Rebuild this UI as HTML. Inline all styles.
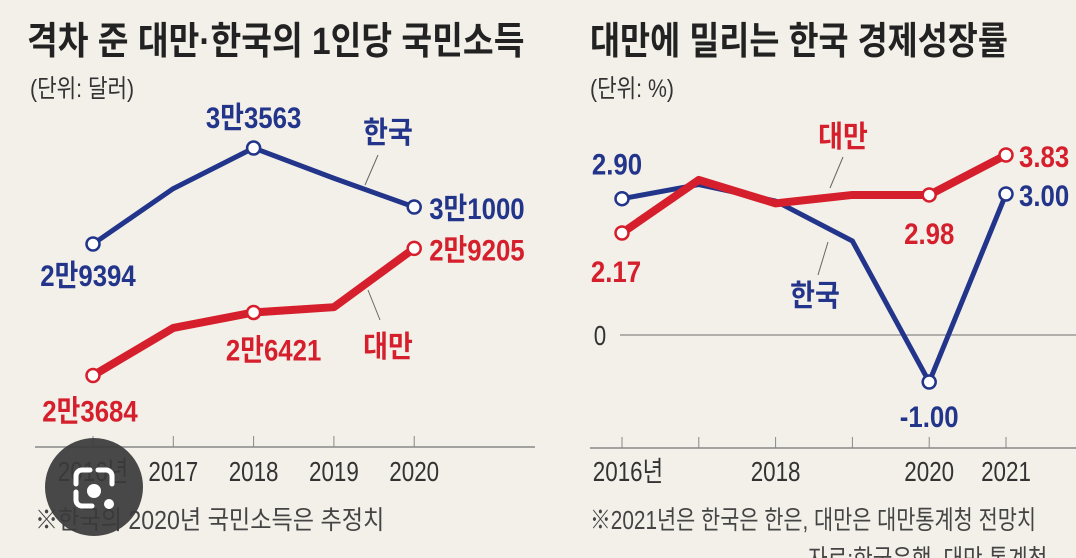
<!DOCTYPE html>
<html><head><meta charset="utf-8">
<style>
html,body{margin:0;padding:0;background:#f3f0e9;}
svg{display:block;}
text{font-family:"Liberation Sans","Noto Sans CJK KR",sans-serif;}
</style></head>
<body>
<svg id="c" width="1076" height="558" viewBox="0 0 1076 558">
<rect width="1076" height="558" fill="#f3f0e9"/>
<g id="root"></g>
</svg>
<script>
// Left chart data: per-capita income (USD)
const incomeYears = ["2016년","2017","2018","2019","2020"];
const koreaIncome = [29394, 31800, 33563, 32250, 31000];
const taiwanIncome = [23684, 25750, 26421, 26650, 29205];
const koreaIncomeLabels = ["2만9394", null, "3만3563", null, "3만1000"];
const taiwanIncomeLabels = ["2만3684", null, "2만6421", null, "2만9205"];
const koreaIncomeMarked = [true,false,true,false,true];
const taiwanIncomeMarked = [true,false,true,false,true];

// Right chart data: economic growth rate (%)
const growthYears = ["2016년","2017","2018","2019","2020","2021"];
const growthTickLabels = ["2016년","","2018","","2020","2021"];
const koreaGrowth = [2.90, 3.2, 2.85, 2.0, -1.00, 3.00];
const taiwanGrowth = [2.17, 3.3, 2.8, 2.98, 2.98, 3.83];
const koreaGrowthLabels = ["2.90", null, null, null, "-1.00", "3.00"];
const taiwanGrowthLabels = ["2.17", null, null, null, "2.98", "3.83"];
const growthMarked = [true,false,false,false,true,true];

const NS = "http://www.w3.org/2000/svg";
const root = document.getElementById("root");
function mk(tag, attrs, parent){
  const e = document.createElementNS(NS, tag);
  for (const k in attrs) e.setAttribute(k, attrs[k]);
  (parent||root).appendChild(e);
  return e;
}
function txt(s, x, y, size, fill, anchor, weight, sx, name){
  const t = mk("text", {x:0, y:0, "font-size":size, fill:fill, "text-anchor":anchor||"start", "font-weight":weight||"normal",
    transform:`translate(${x},${y}) scale(${sx||0.82},1)`});
  t.textContent = s;
  
  
  return t;
}
const BLUE = "#22358a", RED = "#d61f2c", GRAY = "#333";

// Titles
txt("격차 준 대만·한국의 1인당 국민소득", 27, 54, 38, "#222", "start", "bold", 0.88, "left-chart-title");
txt("(단위: 달러)", 30, 97, 25, "#333", "start", "normal", 0.85, "left-unit-label");
txt("대만에 밀리는 한국 경제성장률", 590, 54, 38, "#222", "start", "bold", 0.86, "right-chart-title");
txt("(단위: %)", 590, 97, 25, "#333", "start", "normal", 0.85, "right-unit-label");

// ---------- Left chart ----------
const lx = i => 93 + i * 80.3;
const ly = v => 244 - (v - 29394) * 0.02303;
let ax = mk("line", {x1:35, y1:447, x2:535, y2:447, stroke:"#888", "stroke-width":1.5});


incomeYears.forEach((y, i) => {
  const tk = mk("line", {x1:lx(i), y1:436, x2:lx(i), y2:447, stroke:"#888", "stroke-width":1});
  
  
  txt(y, lx(i), 481, 28, GRAY, "middle", "normal", 0.8, "left-x-tick-label");
});
function series(vals, xf, yf, color, w, name){
  const p = mk("polyline", {points: vals.map((v,i)=>xf(i)+","+yf(v)).join(" "), fill:"none", stroke:color, "stroke-width":w, "stroke-linejoin":"round"});
  
  
}
function dots(vals, marked, xf, yf, color, name){
  vals.forEach((v,i)=>{ if(!marked[i]) return;
    const c = mk("circle", {cx:xf(i), cy:yf(v), r:6.5, fill:"#fff", stroke:color, "stroke-width":2.5});
    
    
  });
}
series(koreaIncome, lx, ly, BLUE, 5, "korea-income-line");
series(taiwanIncome, lx, ly, RED, 8, "taiwan-income-line");
dots(koreaIncome, koreaIncomeMarked, lx, ly, BLUE, "korea-income-point");
dots(taiwanIncome, taiwanIncomeMarked, lx, ly, RED, "taiwan-income-point");
// value labels
const kOff = [[-5,42,"middle"],[0,0,""],[0,-20,"middle"],[0,0,""],[15,12,"start"]];
const tOff = [[-3,46,"middle"],[0,0,""],[20,48,"middle"],[0,0,""],[15,12,"start"]];
koreaIncome.forEach((v,i)=>{ if(!koreaIncomeLabels[i]) return;
  txt(koreaIncomeLabels[i], lx(i)+kOff[i][0], ly(v)+kOff[i][1], 30, BLUE, kOff[i][2], "bold", 0.86, "korea-income-value");
});
taiwanIncome.forEach((v,i)=>{ if(!taiwanIncomeLabels[i]) return;
  txt(taiwanIncomeLabels[i], lx(i)+tOff[i][0], ly(v)+tOff[i][1], 30, RED, tOff[i][2], "bold", 0.86, "taiwan-income-value");
});
txt("한국", 388, 143, 30, BLUE, "middle", "bold", 0.9, "korea-income-series-label");
txt("대만", 388, 357, 30, RED, "middle", "bold", 0.9, "taiwan-income-series-label");
let ld = mk("line",{x1:378,y1:155,x2:365,y2:185,stroke:"#666","stroke-width":1});


ld = mk("line",{x1:380,y1:320,x2:368,y2:290,stroke:"#666","stroke-width":1});


txt("※한국의 2020년 국민소득은 추정치", 35, 529, 26, "#444", "start", "normal", 0.89, "left-footnote");

// ---------- Right chart ----------
const rx = i => 622 + i * 76.8;
const ry = v => 335 - v * 47;
let zl = mk("line", {x1:620, y1:ry(0), x2:1076, y2:ry(0), stroke:"#888", "stroke-width":1.2});


txt("0", 600, ry(0)+10, 28, GRAY, "middle", "normal", 0.8, "y-tick-zero");
ax = mk("line", {x1:590, y1:448, x2:1076, y2:448, stroke:"#888", "stroke-width":1.5});


growthYears.forEach((y,i)=>{
  const tk = mk("line", {x1:rx(i), y1:437, x2:rx(i), y2:448, stroke:"#888", "stroke-width":1});
  
  
  if (growthTickLabels[i]) txt(growthTickLabels[i], rx(i)+(i===0?6:0), 481, 28, GRAY, "middle", "normal", 0.8, "right-x-tick-label");
});
series(koreaGrowth, rx, ry, BLUE, 5, "korea-growth-line");
series(taiwanGrowth, rx, ry, RED, 8, "taiwan-growth-line");
dots(koreaGrowth, growthMarked, rx, ry, BLUE, "korea-growth-point");
dots(taiwanGrowth, growthMarked, rx, ry, RED, "taiwan-growth-point");
const kgOff = [[-5,-24,"middle"],0,0,0,[0,45,"middle"],[13,12,"start"]];
const tgOff = [[-6,49,"middle"],0,0,0,[0,49,"middle"],[13,12,"start"]];
koreaGrowth.forEach((v,i)=>{ if(!koreaGrowthLabels[i]) return;
  txt(koreaGrowthLabels[i], rx(i)+kgOff[i][0], ry(v)+kgOff[i][1], 30, BLUE, kgOff[i][2], "bold", 0.86, "korea-growth-value");
});
taiwanGrowth.forEach((v,i)=>{ if(!taiwanGrowthLabels[i]) return;
  txt(taiwanGrowthLabels[i], rx(i)+tgOff[i][0], ry(v)+tgOff[i][1], 30, RED, tgOff[i][2], "bold", 0.86, "taiwan-growth-value");
});
txt("대만", 843, 147, 30, RED, "middle", "bold", 0.9, "taiwan-growth-series-label");
txt("한국", 815, 306, 30, BLUE, "middle", "bold", 0.9, "korea-growth-series-label");
ld = mk("line",{x1:843,y1:157,x2:830,y2:188,stroke:"#666","stroke-width":1});


ld = mk("line",{x1:828,y1:242,x2:818,y2:275,stroke:"#666","stroke-width":1});


txt("※2021년은 한국은 한은, 대만은 대만통계청 전망치", 590, 529, 26, "#444", "start", "normal", 0.8, "right-footnote");
txt("자료:한국은행, 대만 통계청", 808, 568, 26, "#444", "start", "normal", 0.82, "source-note");

// Lens overlay icon
const lens = mk("g", {});


mk("circle", {cx:94, cy:487, r:49, fill:"#3b3a3b", opacity:"0.92"}, lens);
mk("path", {d:"M76 484 v-8 a6 6 0 0 1 6 -6 h8 M112 484 v-8 a6 6 0 0 0 -6 -6 h-8 M76 492 v8 a6 6 0 0 0 6 6 h10", fill:"none", stroke:"#fff", "stroke-width":5, "stroke-linecap":"round"}, lens);
mk("circle", {cx:94, cy:491, r:7, fill:"#fff"}, lens);
mk("circle", {cx:109, cy:504, r:5, fill:"#fff"}, lens);
</script>
</body></html>
